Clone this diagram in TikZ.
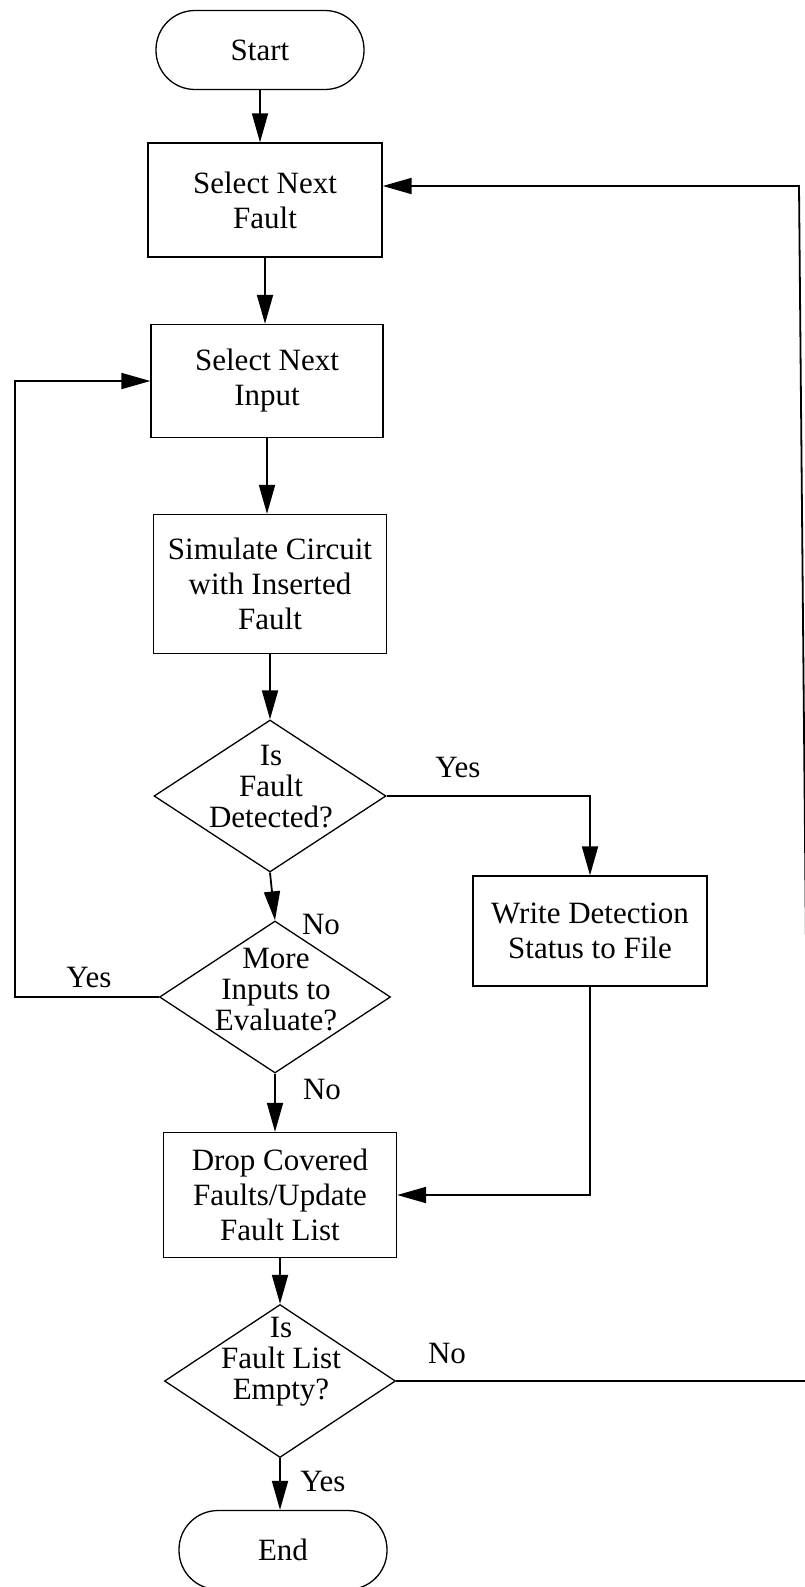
\documentclass[tikz,border=0pt]{standalone}
\usepackage{fontspec}
\setmainfont{Liberation Serif}
\usetikzlibrary{shapes.geometric,arrows.meta}
\begin{document}
\begin{tikzpicture}[x=1pt,y=-1pt,
  every node/.style={font=\fontsize{31pt}{35pt}\selectfont},
  proc/.style={draw, line width=1.3pt, rectangle, inner sep=0pt, align=center},
  term/.style={draw, line width=1.3pt, rectangle, rounded corners=39pt,
    minimum width=208pt, minimum height=79pt, inner sep=0pt},
  dec/.style={draw, line width=1.3pt, diamond, inner sep=0pt,
    minimum width=232pt, minimum height=152pt},
  dectext/.style={align=center, inner sep=0pt, font=\fontsize{31pt}{31pt}\selectfont},
  lbl/.style={inner sep=0pt},
  flow/.style={line width=1.8pt, -{Triangle[length=29pt,width=16pt]}}
]
\useasboundingbox (0,0) rectangle (804,1587);

% process steps
\node[term] (start) at (260,50) {Start};
\node[proc, minimum width=234pt, minimum height=114pt] (fault) at (265,200) {Select Next\\Fault};
\node[proc, minimum width=232pt, minimum height=113pt] (input) at (267,381) {Select Next\\Input};
\node[proc, minimum width=233pt, minimum height=139pt] (sim) at (270,584) {Simulate Circuit\\with Inserted\\Fault};
\node[dec] (d1) at (270,796) {};
\node[dectext] (d1t) at (271,787) {Is\\Fault\\Detected?};
\node[dec, minimum width=231pt] (d2) at (275,997) {};
\node[dectext] (d2t) at (276,990) {More\\Inputs to\\Evaluate?};
\node[proc, minimum width=234pt, minimum height=110pt] (write) at (590,931) {Write Detection\\Status to File};
\node[proc, minimum width=233pt, minimum height=125pt] (drop) at (280,1195) {Drop Covered\\Faults/Update\\Fault List};
\node[dec, minimum width=231pt, minimum height=153pt] (d3) at (280,1381) {};
\node[dectext] (d3t) at (281,1362) {Is\\Fault List\\Empty?};
\node[term] (end) at (283,1550) {End};

% branch labels
\node[lbl] (l1) at (458,767) {Yes};
\node[lbl] (l2) at (321,924) {No};
\node[lbl] (l3) at (89,977) {Yes};
\node[lbl] (l4) at (322,1089) {No};
\node[lbl] (l5) at (447,1353) {No};
\node[lbl] (l6) at (323,1481) {Yes};

% bend points of the loops
\coordinate (lb) at (15,997);
\coordinate (rb) at (810,1381);
\coordinate (rt) at (799,186);

% main flow
\draw[flow] (start) -- (start |- fault.north);
\draw[flow] (fault.south) -- (fault.south |- input.north);
\draw[flow] (input.south) -- (input.south |- sim.north);
\draw[flow] (sim.south) -- (d1.north);
\draw[flow] (d1.south) -- (d2.north);
\draw[flow] (d1.east) -| (write.north);
\draw[flow] (d2.west) -- (lb) |- (input.west);
\draw[flow] (d2.south) -- (d2.south |- drop.north);
\draw[flow] (write.south) |- (drop.east);
\draw[flow] (drop.south) -- (d3.north);
\draw[flow] (d3.south) -- (d3.south |- end.north);
\draw[flow] (d3.east) -- (rb) -- (rt) -- (fault.east |- rt);
\end{tikzpicture}
\end{document}
